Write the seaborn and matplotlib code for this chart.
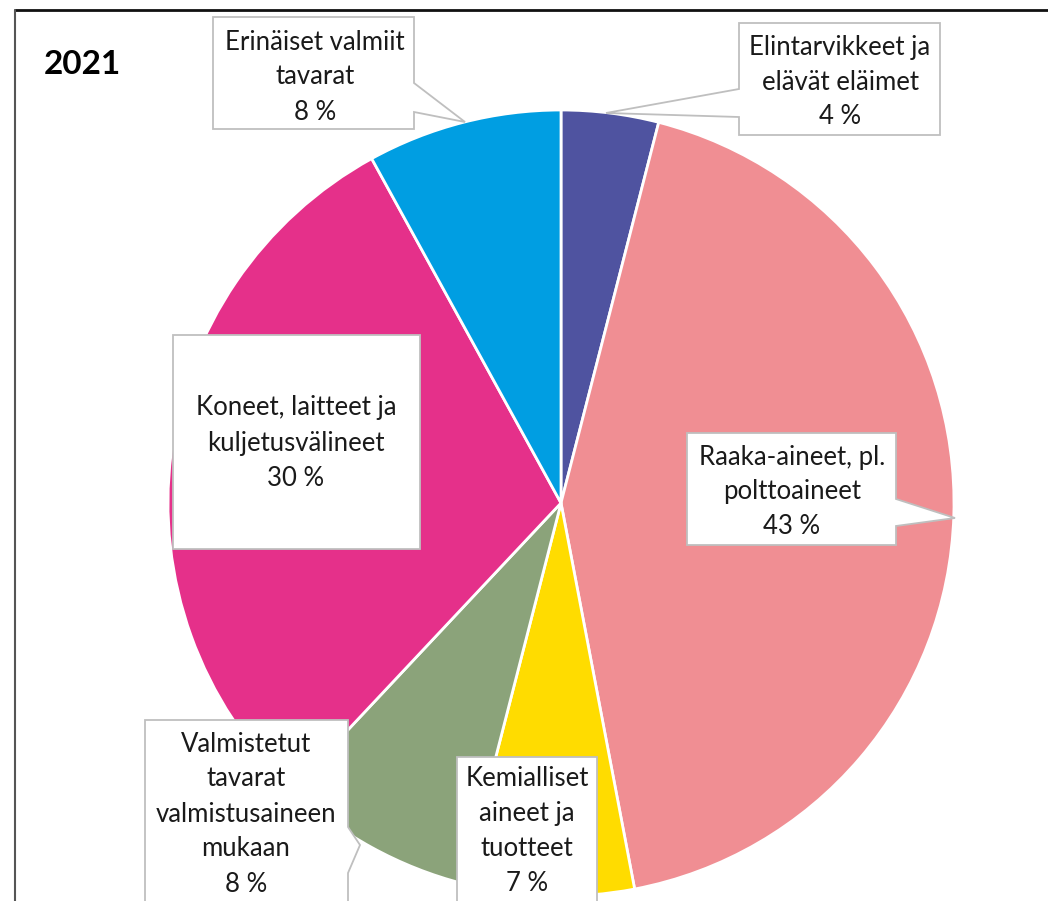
import numpy as np
import seaborn as sns
import matplotlib.pyplot as plt
from matplotlib.patches import Polygon
from matplotlib.lines import Line2D

# data (order = clockwise from 12 o'clock)
categories = ['Elintarvikkeet ja\nelävät eläimet',
              'Raaka-aineet, pl.\npolttoaineet',
              'Kemialliset\naineet ja\ntuotteet',
              'Valmistetut\ntavarat\nvalmistusaineen\nmukaan',
              'Koneet, laitteet ja\nkuljetusvälineet',
              'Erinäiset valmiit\ntavarat']
shares = [4, 43, 7, 8, 30, 8]
year = '2021'

colors = ['#4F53A0', '#F08E93', '#FFDC00', '#8BA37A', '#E5308A', '#009EE2']

sns.set_theme(style='white')
plt.rcParams['font.family'] = ['Lato', 'DejaVu Sans']

W, H = 1048, 901
fig = plt.figure(figsize=(W / 100, H / 100), dpi=100)
ax = fig.add_axes([0, 0, 1, 1])

# y axis is inverted, so data-ccw == screen-cw
ax.pie(shares, colors=colors, startangle=-90, counterclock=True,
       center=(561, 503), radius=393,
       wedgeprops=dict(edgecolor='white', linewidth=2))
ax.set_xlim(0, W)
ax.set_ylim(H, 0)
ax.set_aspect('auto')
ax.axis('off')

# callout boxes: outline in pixel coords, text centre
callouts = [
    dict(poly=[(739, 23), (940, 23), (940, 135), (739, 135), (739, 117), (606, 113), (739, 89)],
         text=(840, 82)),
    dict(poly=[(687, 433), (896, 433), (896, 499), (955, 518), (896, 526), (896, 545), (687, 545)],
         text=(792, 492)),
    dict(poly=[(457, 757), (597, 757), (597, 910), (457, 910)],
         text=(527, 831)),
    dict(poly=[(145, 720), (348, 720), (348, 827), (360, 845), (348, 873), (348, 910), (145, 910)],
         text=(246, 814)),
    dict(poly=[(173, 335), (420, 335), (420, 549), (173, 549)],
         text=(296, 443)),
    dict(poly=[(213, 17), (414, 17), (414, 83), (465, 122), (414, 112), (414, 129), (213, 129)],
         text=(315, 77)),
]

for cat, val, c in zip(categories, shares, callouts):
    ax.add_patch(Polygon(c['poly'], closed=True, facecolor='white',
                         edgecolor='#BFBFBF', linewidth=1.3, zorder=3))
    ax.text(c['text'][0], c['text'][1], f'{cat}\n{val} %', ha='center', va='center',
            fontsize=18.5, color='#1A1A1A', linespacing=1.5, zorder=4)

ax.text(44, 64, year, ha='left', va='center', fontsize=24, fontweight='bold',
        color='black')

# chart frame (only top and left visible in the crop)
ax.add_line(Line2D([15, W], [10, 10], color='#111111', linewidth=2, zorder=5))
ax.add_line(Line2D([15, 15], [10, H], color='#555555', linewidth=1.5, zorder=5))

fig.savefig('out.png', dpi=100)
